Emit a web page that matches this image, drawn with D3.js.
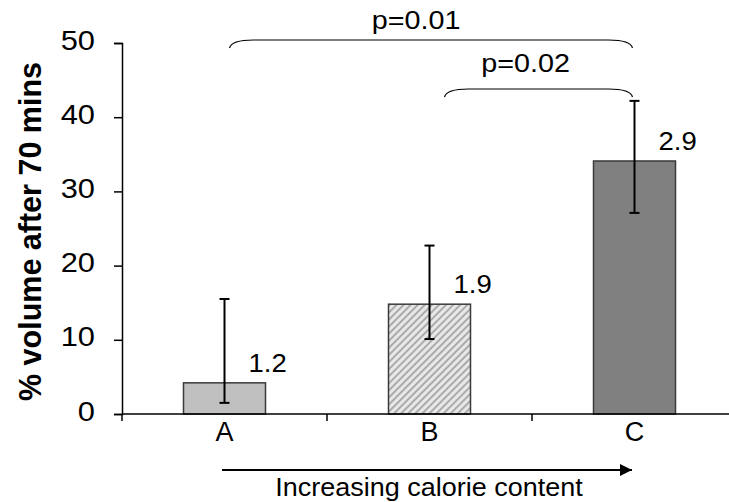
<!DOCTYPE html>
<html>
<head>
<meta charset="utf-8">
<script src="https://cdn.jsdelivr.net/npm/d3@7"></script>
<style>
  body { margin: 0; background: #fff; }
  svg { display: block; font-family: "Liberation Sans", Arial, sans-serif; }
</style>
</head>
<body>
<svg id="chart" width="729" height="502"></svg>
<script>
// Data
const categories = ['A', 'B', 'C'];
const means = [4.2, 14.8, 34.1];
const errLow = [1.5, 10.1, 27.1];
const errHigh = [15.5, 22.7, 42.2];
const barLabels = ['1.2', '1.9', '2.9'];
const yTicks = [0, 10, 20, 30, 40, 50];
const comparisons = [
  { from: 'A', to: 'C', text: 'p=0.01', level: 0 },
  { from: 'B', to: 'C', text: 'p=0.02', level: 1 }
];

// the source picture's digits run a bit wide
const SX = 1.1;

const svg = d3.select('#chart');

const x = d3.scaleBand().domain(categories).range([122, 737])
  .paddingInner(0.6).paddingOuter(0.3);
const y = d3.scaleLinear().domain([0, 50]).range([414, 43]);
const mid = d => x(d) + x.bandwidth() / 2;

// pattern for the hatched bar
const defs = svg.append('defs');
const pat = defs.append('pattern')
  .attr('id', 'hatch').attr('patternUnits', 'userSpaceOnUse')
  .attr('width', 5).attr('height', 5)
  .attr('patternTransform', 'rotate(45)');
pat.append('rect').attr('width', 5).attr('height', 5).attr('fill', '#e8e8e8');
pat.append('rect').attr('width', 2).attr('height', 5).attr('fill', '#ababab');

const fills = ['#c0c0c0', 'url(#hatch)', '#808080'];

// bars
svg.append('g').selectAll('rect').data(categories).join('rect')
  .attr('x', d => x(d))
  .attr('y', (d, i) => y(means[i]))
  .attr('width', x.bandwidth())
  .attr('height', (d, i) => y(0) - y(means[i]))
  .attr('fill', (d, i) => fills[i])
  .attr('stroke', '#3a3a3a')
  .attr('stroke-width', 1.5);

// y axis
const yAxis = svg.append('g')
  .attr('transform', `translate(${x.range()[0]},0)`)
  .call(d3.axisLeft(y).tickValues(yTicks).tickSize(8).tickPadding(20));
yAxis.select('.domain').attr('stroke', '#000').attr('stroke-width', 1.5);
yAxis.selectAll('.tick line').attr('stroke', '#000').attr('stroke-width', 1.5);
yAxis.selectAll('.tick text')
  .attr('x', 0)
  .attr('dy', '0.22em')
  .attr('transform', `translate(-27,0) scale(${SX},1)`)
  .attr('font-size', 28).attr('fill', '#000')
  .attr('font-family', '"Liberation Sans", Arial, sans-serif');

// x axis: line with ticks at category boundaries
const xg = svg.append('g');
xg.append('line')
  .attr('x1', x.range()[0]).attr('x2', x.range()[1])
  .attr('y1', y(0)).attr('y2', y(0))
  .attr('stroke', '#000').attr('stroke-width', 1.5);
xg.selectAll('line.tk').data(d3.range(categories.length + 1)).join('line')
  .attr('class', 'tk')
  .attr('x1', i => x.range()[0] + i * x.step())
  .attr('x2', i => x.range()[0] + i * x.step())
  .attr('y1', y(0)).attr('y2', y(0) + 7)
  .attr('stroke', '#000').attr('stroke-width', 1.5);
xg.selectAll('text').data(categories).join('text')
  .attr('x', d => mid(d))
  .attr('y', 441)
  .attr('text-anchor', 'middle')
  .attr('font-size', 27)
  .text(d => d);

// error bars
const eb = svg.append('g').attr('stroke', '#000').attr('stroke-width', 2);
categories.forEach((c, i) => {
  const cx = mid(c);
  eb.append('line').attr('x1', cx).attr('x2', cx).attr('y1', y(errLow[i])).attr('y2', y(errHigh[i]));
  eb.append('line').attr('x1', cx - 5).attr('x2', cx + 5).attr('y1', y(errLow[i])).attr('y2', y(errLow[i]));
  eb.append('line').attr('x1', cx - 5).attr('x2', cx + 5).attr('y1', y(errHigh[i])).attr('y2', y(errHigh[i]));
});

// value labels beside bars
svg.append('g').selectAll('text').data(categories).join('text')
  .attr('transform', (d, i) => `translate(${mid(d) + 24},${y(means[i]) - 11}) scale(${SX},1)`)
  .attr('font-size', 25)
  .text((d, i) => barLabels[i]);

// significance brackets
const bracketY = [40, 89];
const leftPad = [5, 15];
const textLift = [11, 17];
const textShift = [-15, -13];
comparisons.forEach(cmp => {
  const lv = cmp.level;
  const x1 = mid(cmp.from) + leftPad[lv];
  const x2 = mid(cmp.to) - 2;
  const by = bracketY[lv];
  const h = 8, r = 24;
  const p = d3.path();
  p.moveTo(x1, by + h);
  p.quadraticCurveTo(x1 + 2, by, x1 + r, by);
  p.lineTo(x2 - r, by);
  p.quadraticCurveTo(x2 - 2, by, x2, by + h);
  svg.append('path').attr('d', p.toString())
    .attr('fill', 'none').attr('stroke', '#000').attr('stroke-width', 1.2);
  svg.append('text')
    .attr('transform', `translate(${(x1 + x2) / 2 + textShift[lv]},${by - textLift[lv]}) scale(1.15,1)`)
    .attr('text-anchor', 'middle')
    .attr('font-size', 25)
    .text(cmp.text);
});

// arrow under the axis
defs.append('marker').attr('id', 'arrow')
  .attr('viewBox', '0 0 10 10').attr('refX', 10).attr('refY', 5)
  .attr('markerWidth', 15).attr('markerHeight', 12)
  .attr('markerUnits', 'userSpaceOnUse').attr('orient', 'auto')
  .append('path').attr('d', 'M0,0L10,5L0,10Z').attr('fill', '#000');
svg.append('line')
  .attr('x1', 222).attr('x2', 632).attr('y1', 470).attr('y2', 470)
  .attr('stroke', '#000').attr('stroke-width', 2)
  .attr('marker-end', 'url(#arrow)');
svg.append('text')
  .attr('transform', 'translate(429,496) scale(1.08,1)')
  .attr('text-anchor', 'middle')
  .attr('font-size', 25)
  .text('Increasing calorie content');

// y axis title
svg.append('text')
  .attr('transform', `translate(41,${(y(0) + y(50)) / 2 + 3}) rotate(-90)`)
  .attr('text-anchor', 'middle')
  .attr('font-size', 30.5)
  .attr('font-weight', 'bold')
  .text('% volume after 70 mins');
</script>
</body>
</html>
